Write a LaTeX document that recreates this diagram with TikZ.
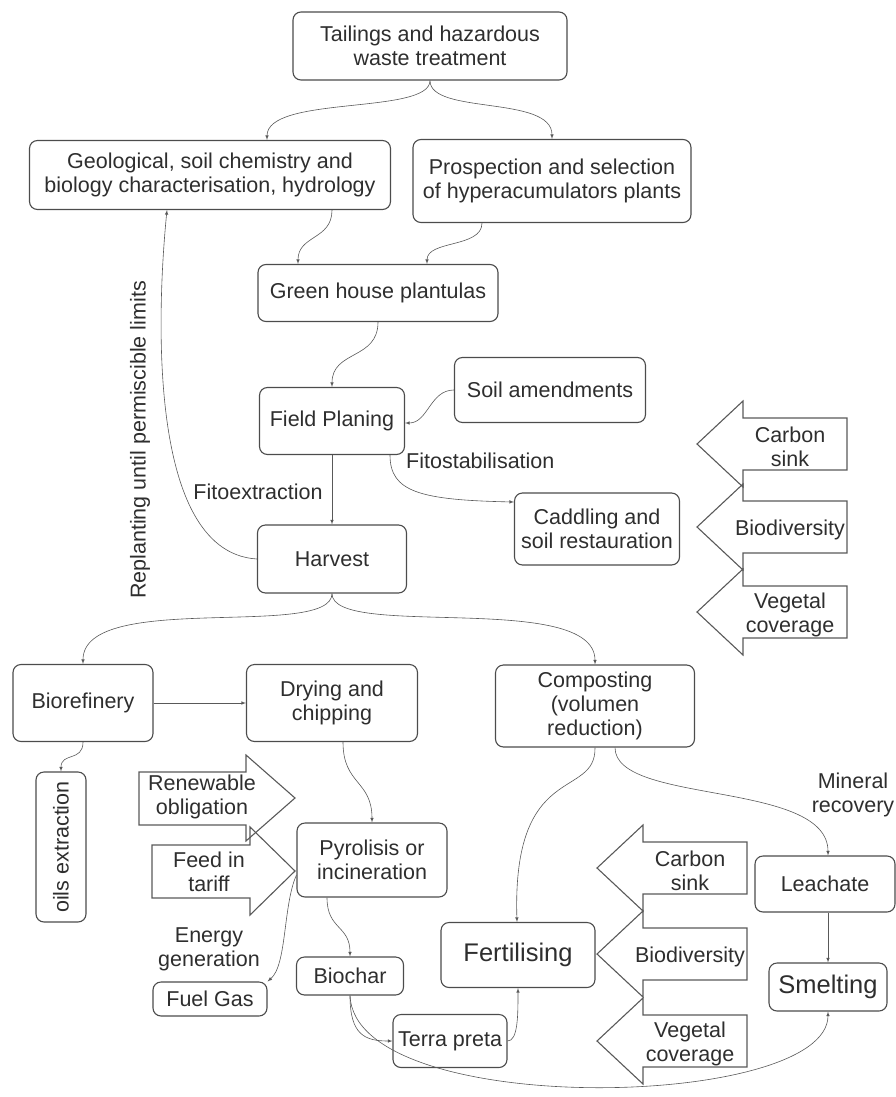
\documentclass[tikz,border=0pt]{standalone}
\usepackage{fontspec}
\setmainfont{Liberation Sans}
\definecolor{boxgray}{rgb}{0.3,0.3,0.3}
\definecolor{linegray}{rgb}{0.35,0.35,0.35}
\definecolor{txtgray}{rgb}{0.18,0.18,0.18}

\begin{document}
\begin{tikzpicture}[x=1pt,y=-1pt,
    box/.style={draw=boxgray, line width=1.1pt, rounded corners=8pt, align=center, inner sep=2pt,
      text=txtgray, font=\fontsize{21.5}{24}\selectfont},
    lbl/.style={align=center, inner sep=0pt, text=txtgray, font=\fontsize{21.5}{24}\selectfont},
    flow/.style={-latex, draw=linegray, line width=0.6pt},
    bigarr/.style={draw=linegray, line width=1.1pt, line join=miter}]
    \useasboundingbox (0,0) rectangle (895,1097);

    \node[box, minimum width=274pt, minimum height=68pt] (tail) at (430,46) {Tailings and hazardous\\waste treatment};
    \node[box, minimum width=361pt, minimum height=69pt] (geo) at (210,175) {Geological, soil chemistry and\\biology characterisation, hydrology};
    \node[box, minimum width=278pt, minimum height=83pt] (prosp) at (552,181) {Prospection and selection\\of hyperacumulators plants};
    \node[box, minimum width=240pt, minimum height=57pt] (green) at (378,293) {Green house plantulas};
    \node[box, minimum width=191pt, minimum height=65pt] (soil) at (550,390) {Soil amendments};
    \node[box, minimum width=145pt, minimum height=67pt] (field) at (332,421) {Field Planing};
    \node[box, minimum width=165pt, minimum height=72pt] (cadd) at (597,529) {Caddling and\\soil restauration};
    \node[box, minimum width=149pt, minimum height=68pt] (harv) at (332,559) {Harvest};
    \node[box, minimum width=140pt, minimum height=77pt] (bioref) at (83,703) {Biorefinery};
    \node[box, minimum width=171pt, minimum height=77pt] (dry) at (332,703) {Drying and\\chipping};
    \node[box, minimum width=199pt, minimum height=82pt] (comp) at (595,706) {Composting\\(volumen\\reduction)};
    \node[box, rotate=90, minimum width=150pt, minimum height=50pt] (oils) at (61,847) {oils extraction};
    \node[box, minimum width=150pt, minimum height=74pt] (pyro) at (372,860) {Pyrolisis or\\incineration};
    \node[box, minimum width=114pt, minimum height=34pt] (fuel) at (210,999) {Fuel Gas};
    \node[box, minimum width=107pt, minimum height=38pt] (biochar) at (350,976) {Biochar};
    \node[box, minimum width=114pt, minimum height=53pt] (terra) at (450,1041) {Terra preta};
    \node[box, minimum width=154pt, minimum height=65pt, font=\fontsize{25.5}{28}\selectfont] (fert) at (518,955) {Fertilising};
    \node[box, minimum width=140pt, minimum height=56pt] (leach) at (825,884) {Leachate};
    \node[box, minimum width=118pt, minimum height=48pt, font=\fontsize{25.5}{28}\selectfont] (smelt) at (828,987) {Smelting};

    \node[lbl, anchor=west] (fitostab) at (406,461) {Fitostabilisation};
    \node[lbl] (fitoext) at (258,492) {Fitoextraction};
    \node[lbl, rotate=90] (replant) at (140,440) {Replanting until permiscible limits};
    \node[lbl] (energy) at (209,949) {Energy\\generation};
    \node[lbl] (mineral) at (853,795) {Mineral\\recovery};

    \foreach \yc/\txt [count=\i] in {444/{Carbon\\sink}, 527/{Biodiversity}, 612/{Vegetal\\coverage}} {
      \draw[bigarr] (697,\yc) -- (743,\yc-43) -- (743,\yc-26) -- (847,\yc-26) -- (847,\yc+26) -- (743,\yc+26) -- (743,\yc+43) -- cycle;
      \node[lbl] (upben\i) at (790,\yc+3) {\txt};
    }
    \foreach \yc/\txt [count=\i] in {868/{Carbon\\sink}, 954/{Biodiversity}, 1041/{Vegetal\\coverage}} {
      \draw[bigarr] (597,\yc) -- (643,\yc-43) -- (643,\yc-26) -- (747,\yc-26) -- (747,\yc+26) -- (643,\yc+26) -- (643,\yc+43) -- cycle;
      \node[lbl] (lowben\i) at (690,\yc+3) {\txt};
    }
    \draw[bigarr] (139,772) -- (246,772) -- (246,755) -- (295,798) -- (246,841) -- (246,825) -- (139,825) -- cycle;
    \node[lbl] (renew) at (202,797) {Renewable\\obligation};
    \draw[bigarr] (152,845) -- (250,845) -- (250,827) -- (295,871) -- (250,915) -- (250,898) -- (152,898) -- cycle;
    \node[lbl] (feed) at (209,872) {Feed in\\tariff};

    \draw[flow] (tail.south) .. controls (430,115) and (267,95) .. ([xshift=57pt]geo.north);
    \draw[flow] (tail.south) .. controls (430,115) and (552,95) .. (prosp.north);
    \draw[flow] ([xshift=122pt]geo.south) .. controls (332,240) and (298,235) .. ([xshift=-80pt]green.north);
    \draw[flow] ([xshift=-70pt]prosp.south) .. controls (482,248) and (427,240) .. ([xshift=49pt]green.north);
    \draw[flow] (green.south) .. controls (378,360) and (332,350) .. (field.north);
    \draw[flow] (soil.west) .. controls (430,390) and (428,423) .. ([yshift=-2pt]field.east);
    \draw[flow] ([xshift=58pt]field.south) .. controls (390,492) and (420,500) .. ([yshift=27pt]cadd.west);
    \draw[flow] (field) -- (harv);
    \draw[flow] (harv.west) .. controls (140,552) and (160,280) .. ([xshift=-43pt]geo.south);
    \draw[flow] (harv.south) .. controls (332,640) and (83,590) .. (bioref.north);
    \draw[flow] (harv.south) .. controls (332,640) and (595,590) .. (comp.north);
    \draw[flow] (bioref) -- (dry);
    \draw[flow] (bioref.south) .. controls (83,762) and (61,752) .. (oils.east);
    \draw[flow] ([xshift=11pt]dry.south) .. controls (343,785) and (372,780) .. (pyro.north);
    \draw[flow] (comp.south) .. controls (596,800) and (512,760) .. ([xshift=-1pt]fert.north);
    \draw[flow] ([xshift=20pt]comp.south) .. controls (615,805) and (828,780) .. ([xshift=3pt]leach.north);
    \draw[flow] (smelt.north |- leach.south) -- (smelt.north);
    \draw[flow] ([yshift=-15pt]pyro.west) .. controls (283,905) and (287,965) .. (fuel.north east);
    \draw[flow] ([xshift=-45pt]pyro.south) .. controls (327,930) and (350,925) .. (biochar.north);
    \draw[flow] (biochar.south) .. controls (350,1035) and (365,1041) .. (terra.west);
    \draw[flow] (biochar.south) .. controls (355,1120) and (828,1110) .. (smelt.south);
    \draw[flow] (terra.east) .. controls (518,1041) and (518,1015) .. (fert.south);
\end{tikzpicture}
\end{document}
